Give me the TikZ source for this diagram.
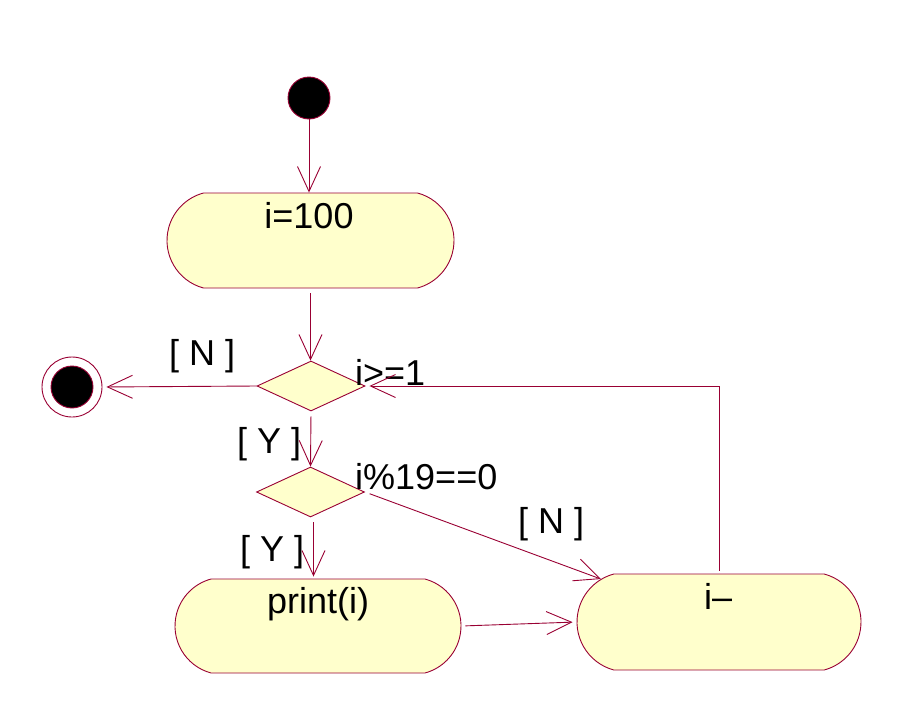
\documentclass[tikz,border=0pt]{standalone}
\usepackage{fontspec}
\setmainfont{Liberation Sans}
\usetikzlibrary{shapes.misc,shapes.geometric,arrows.meta}
\definecolor{rline}{RGB}{153,0,51}
\definecolor{rfill}{RGB}{255,255,204}
\tikzset{
  actbox/.style={rounded rectangle, rounded rectangle arc length=150, draw=rline, fill=rfill, line width=0.9pt, inner sep=0pt},
  decbox/.style={diamond, draw=rline, fill=rfill, line width=0.9pt, inner sep=0pt, minimum width=108pt, minimum height=50pt},
  flow/.style={draw=rline, line width=0.9pt, -{Straight Barb[length=25pt,width=23pt,line width=0.9pt]}},
  txt/.style={font=\fontsize{36}{43}\selectfont, inner sep=0pt, text=black},
}
\begin{document}
\begin{tikzpicture}[x=1pt,y=-1pt]
\useasboundingbox (0,0) rectangle (916,715);
% start and final
\node[circle, draw=rline, fill=black, line width=0.9pt, minimum size=42pt, inner sep=0pt] (start) at (309,98) {};
\node[circle, draw=rline, line width=0.9pt, minimum size=60pt, inner sep=0pt] (final) at (72,387) {};
\node[circle, draw=rline, fill=black, line width=0.9pt, minimum size=42pt, inner sep=0pt] (finalin) at (72,387) {};
% activities
\node[actbox, minimum width=287pt, minimum height=95pt] (b1) at (310.5,240.5) {};
\node[actbox, minimum width=286pt, minimum height=94pt] (b2) at (318,626) {};
\node[actbox, minimum width=284pt, minimum height=96pt] (b3) at (719,622) {};
\node[txt, anchor=base] (t1) at (309,228) {i=100};
\node[txt, anchor=base west] (t2) at (267,613) {print(i)};
\node[txt, anchor=base west] (t3) at (704,609) {i–};
% decisions
\node[decbox] (d1) at (311,386) {};
\node[decbox] (d2) at (310.5,492) {};
% labels
\node[txt, anchor=base west] (l1) at (169,365) {[ N ]};
\node[txt, anchor=base west] (l2) at (237,453) {[ Y ]};
\node[txt, anchor=base west] (l3) at (355,385) {i>=1};
\node[txt, anchor=base west] (l4) at (355,489) {i\%19==0};
\node[txt, anchor=base west] (l5) at (518,533) {[ N ]};
\node[txt, anchor=base west] (l6) at (240,561) {[ Y ]};
% connectors
\draw[flow] (start.south) -- (start.south |- b1.north);
\draw[flow, shorten <=5pt] (b1.south) -- (b1.south |- d1.north);
\draw[flow, shorten >=4pt] (d1.west) -- (final.east);
\draw[flow, shorten <=5pt] (d1.south) -- (d2.north);
\draw[flow, shorten <=5pt, shorten >=2pt] ([xshift=3pt]d2.south) -- ([xshift=3pt]d2.south |- b2.north);
\draw[flow, shorten <=5pt] (d2.east) -- (b3.160);
\draw[flow, shorten <=4pt, shorten >=4pt] (b2.east) -- (b3.west);
\draw[flow, shorten <=3pt, shorten >=4pt] (b3.north) |- (d1.east);
\end{tikzpicture}
\end{document}
